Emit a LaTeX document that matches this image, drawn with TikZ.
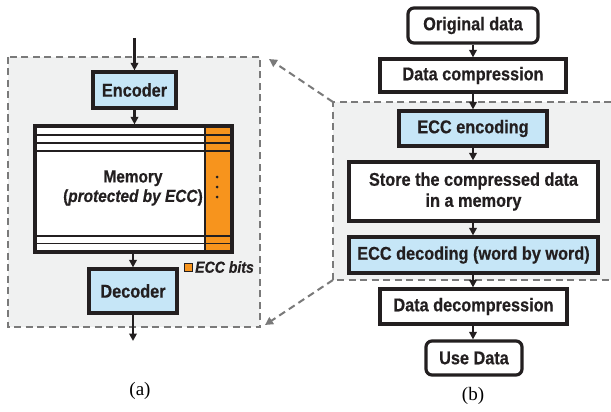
\documentclass[tikz,border=0pt]{standalone}
\usepackage{fontspec}
\usetikzlibrary{arrows.meta}
\newfontfamily\labf{Liberation Sans}[FakeStretch=0.88, BoldFeatures={FakeBold=0.5}, BoldItalicFeatures={FakeBold=0.5}]
\newfontfamily\capf{Liberation Serif}
\definecolor{lblue}{HTML}{C6E6F7}
\definecolor{eccorange}{HTML}{F7941D}
\definecolor{bggray}{HTML}{F0F1F1}
\definecolor{dgray}{HTML}{7A7A7A}
\definecolor{ink}{HTML}{231F20}
\tikzset{
  box/.style={draw=ink, line width=3.2pt, inner sep=0pt, align=center,
    font=\labf\bfseries\fontsize{18.5}{21}\selectfont, text=ink},
  bluebox/.style={box, fill=lblue},
  whitebox/.style={box, fill=white},
  roundbox/.style={box, fill=white, rounded corners=6pt},
  flow/.style={draw=ink, line width=2.2pt, -{Triangle[length=7.5pt,width=7.5pt]}},
  zoomarrow/.style={draw=dgray, line width=2pt, dash pattern=on 7pt off 4.5pt, -{Triangle[length=8pt,width=8pt]}},
  region/.style={draw=dgray, line width=1.8pt, dash pattern=on 7pt off 4.5pt},
}
\begin{document}
\begin{tikzpicture}[x=1pt,y=-1pt]
\useasboundingbox (0,0) rectangle (611,412);
\fill[white] (0,0) rectangle (611,412);
% regions
\fill[bggray] (8,57) rectangle (260,327);
\draw[region] (8,57) rectangle (260,327);
\fill[bggray] (333,102) rectangle (611,280);
\draw[region] (611,102) -- (333,102) -- (333,280) -- (611,280);
\coordinate (rtop) at (333,102);
\coordinate (rbot) at (333,280);
\coordinate (ltop) at (269,59);
\coordinate (lbot) at (265,325);
\draw[zoomarrow] (rtop) -- (ltop);
\draw[zoomarrow] (rbot) -- (lbot);

% left panel
\node[bluebox, minimum width=83pt, minimum height=36pt] (encl) at (134.5,90) {Encoder};
\node[bluebox, minimum width=88pt, minimum height=44pt] (decl) at (133,291) {Decoder};
\fill[white] (35,126) rectangle (205,252);
\fill[eccorange] (205,126) rectangle (232,252);
\foreach \yy in {135.3,143.3,236,243.5} \draw[ink, line width=1.8pt] (35,\yy) -- (232,\yy);
\draw[ink, line width=2.4pt] (35,151.2) -- (232,151.2);
\draw[ink, line width=2.2pt] (205,126) -- (205,252);
\foreach \yy in {177,187,197} \fill[ink] (217,\yy) circle (1.5pt);
\node[draw=ink, line width=3.2pt, minimum width=197pt, minimum height=126pt, inner sep=0pt] (mem) at (133.5,189) {};
\node[font=\labf\bfseries\fontsize{17.5}{19.5}\selectfont, text=ink, align=center] (memtext) at (133,188) {Memory\\(\textit{protected by ECC})};
\coordinate (inl) at (134.5,38);
\coordinate (outl) at (133,341);
\draw[flow] (inl) -- (encl);
\draw[flow] (encl) -- (encl |- mem.north);
\draw[flow] (decl |- mem.south) -- (decl);
\draw[flow] (decl) -- (outl);
\node[draw=ink, line width=0.9pt, fill=eccorange, minimum size=8pt, inner sep=0pt] (legsq) at (188,267) {};
\node[anchor=west, font=\labf\bfseries\itshape\fontsize{16}{18}\selectfont, text=ink, inner sep=0pt] (legtx) at (195,267) {ECC bits};

% right panel
\node[roundbox, minimum width=130pt, minimum height=35pt] (orig) at (473,25.5) {Original data};
\node[whitebox, minimum width=186pt, minimum height=33pt] (comp) at (473,75.5) {Data compression};
\node[bluebox, minimum width=148pt, minimum height=35pt] (enc) at (473,128.5) {ECC encoding};
\node[whitebox, minimum width=249pt, minimum height=59pt] (store) at (473.5,191.5) {Store the compressed data\\in a memory};
\node[bluebox, minimum width=249pt, minimum height=36pt] (dec) at (473.5,255) {ECC decoding (word by word)};
\node[whitebox, minimum width=187pt, minimum height=35pt] (decomp) at (473.5,306.5) {Data decompression};
\node[roundbox, minimum width=96pt, minimum height=34pt] (use) at (474,358) {Use Data};
\draw[flow] (orig) -- (comp);
\draw[flow] (comp) -- (enc);
\draw[flow] (enc) -- (enc |- store.north);
\draw[flow] (enc |- store.south) -- (enc |- dec.north);
\draw[flow] (enc |- dec.south) -- (enc |- decomp.north);
\draw[flow] (enc |- decomp.south) -- (enc |- use.north);

% captions
\node[font=\capf\fontsize{19}{21}\selectfont] (capa) at (140,391) {(a)};
\node[font=\capf\fontsize{19}{21}\selectfont] (capb) at (473,396) {(b)};
\end{tikzpicture}
\end{document}
